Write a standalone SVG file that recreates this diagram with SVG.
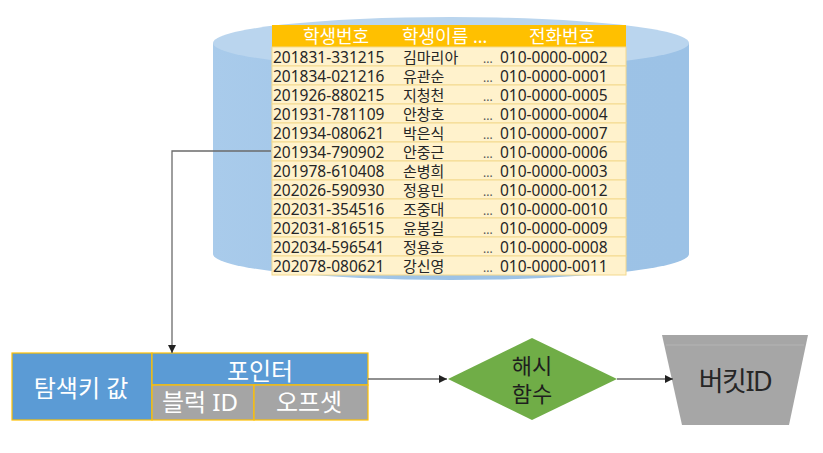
<svg xmlns="http://www.w3.org/2000/svg" width="823" height="453" viewBox="0 0 823 453">
<style>
  .t { font-family: "Noto Sans", "Noto Sans CJK KR", sans-serif; }
  .cell { font-size: 15.5px; fill: #262626; }
  .dots { font-size: 12px; fill: #555555; }
  .name { font-size: 15px; fill: #262626; }
  .hdr { font-size: 18px; fill: #ffffff; }
  .row { fill: #fff2cc; stroke: #f3d98e; stroke-width: 1; }
  .rec { font-size: 24px; fill: #ffffff; }
  .blue { fill: #5b9bd5; stroke: #ffc000; stroke-width: 1.2; }
  .gray { fill: #a5a5a5; stroke: #ffc000; stroke-width: 1.2; }
  .conn { fill: none; stroke: #6b6b6b; stroke-width: 1.3; }
  .dark { font-size: 22px; fill: #1e1e1e; }
</style>
<defs>
  <marker id="arr" viewBox="0 0 10 10" refX="10" refY="5" markerWidth="8" markerHeight="8" markerUnits="userSpaceOnUse" orient="auto">
    <path d="M0,0 L10,5 L0,10 z" fill="#222"/>
  </marker>
  <linearGradient id="body" x1="0" y1="0" x2="1" y2="0">
    <stop offset="0" stop-color="#a9cbeb"/>
    <stop offset="0.5" stop-color="#9dc3e6"/>
    <stop offset="1" stop-color="#9cc2e6"/>
  </linearGradient>
</defs>
<rect width="823" height="453" fill="#ffffff"/>

<g id="database">
  <path d="M213,43 L213,254 A238,26 0 0 0 689,254 L689,43 Z" fill="url(#body)"/>
  <ellipse cx="451" cy="43" rx="238" ry="26" fill="#bad5ee"/>
</g>

<g id="table" class="t">
  <rect x="272" y="25" width="354" height="22" fill="#ffc000"/>
  <text class="hdr" x="336" y="43" text-anchor="middle">학생번호</text>
  <text class="hdr" x="402" y="43">학생이름 ...</text>
  <text class="hdr" x="562" y="43" text-anchor="middle">전화번호</text>
  <g>
    <rect class="row" x="272" y="47" width="354" height="19"/>
    <rect class="row" x="272" y="66" width="354" height="19"/>
    <rect class="row" x="272" y="85" width="354" height="19"/>
    <rect class="row" x="272" y="104" width="354" height="19"/>
    <rect class="row" x="272" y="123" width="354" height="19"/>
    <rect class="row" x="272" y="142" width="354" height="19"/>
    <rect class="row" x="272" y="161" width="354" height="19"/>
    <rect class="row" x="272" y="180" width="354" height="19"/>
    <rect class="row" x="272" y="199" width="354" height="19"/>
    <rect class="row" x="272" y="218" width="354" height="19"/>
    <rect class="row" x="272" y="237" width="354" height="19"/>
    <rect class="row" x="272" y="256" width="354" height="19"/>
  </g>
  <g class="cell">
    <text x="273" y="63">201831-331215</text>
    <text x="273" y="82">201834-021216</text>
    <text x="273" y="101">201926-880215</text>
    <text x="273" y="120">201931-781109</text>
    <text x="273" y="139">201934-080621</text>
    <text x="273" y="158">201934-790902</text>
    <text x="273" y="177">201978-610408</text>
    <text x="273" y="196">202026-590930</text>
    <text x="273" y="215">202031-354516</text>
    <text x="273" y="234">202031-816515</text>
    <text x="273" y="253">202034-596541</text>
    <text x="273" y="272">202078-080621</text>
  </g>
  <g class="name">
    <text x="403" y="63">김마리아</text>
    <text x="403" y="82">유관순</text>
    <text x="403" y="101">지청천</text>
    <text x="403" y="120">안창호</text>
    <text x="403" y="139">박은식</text>
    <text x="403" y="158">안중근</text>
    <text x="403" y="177">손병희</text>
    <text x="403" y="196">정용민</text>
    <text x="403" y="215">조중대</text>
    <text x="403" y="234">윤봉길</text>
    <text x="403" y="253">정용호</text>
    <text x="403" y="272">강신영</text>
  </g>
  <g class="dots">
    <text x="483" y="63">...</text>
    <text x="483" y="82">...</text>
    <text x="483" y="101">...</text>
    <text x="483" y="120">...</text>
    <text x="483" y="139">...</text>
    <text x="483" y="158">...</text>
    <text x="483" y="177">...</text>
    <text x="483" y="196">...</text>
    <text x="483" y="215">...</text>
    <text x="483" y="234">...</text>
    <text x="483" y="253">...</text>
    <text x="483" y="272">...</text>
  </g>
  <g class="cell">
    <text x="500" y="63">010-0000-0002</text>
    <text x="500" y="82">010-0000-0001</text>
    <text x="500" y="101">010-0000-0005</text>
    <text x="500" y="120">010-0000-0004</text>
    <text x="500" y="139">010-0000-0007</text>
    <text x="500" y="158">010-0000-0006</text>
    <text x="500" y="177">010-0000-0003</text>
    <text x="500" y="196">010-0000-0012</text>
    <text x="500" y="215">010-0000-0010</text>
    <text x="500" y="234">010-0000-0009</text>
    <text x="500" y="253">010-0000-0008</text>
    <text x="500" y="272">010-0000-0011</text>
  </g>
</g>

<g id="record" class="t">
  <rect class="blue" x="12" y="353" width="140" height="67"/>
  <rect class="blue" x="152" y="353" width="216" height="32"/>
  <rect class="gray" x="152" y="385" width="102" height="35"/>
  <rect class="gray" x="254" y="385" width="114" height="35"/>
  <text class="rec" x="81" y="397" text-anchor="middle">탐색키 값</text>
  <text class="rec" x="260" y="380" text-anchor="middle">포인터</text>
  <text class="rec" x="200" y="411" text-anchor="middle">블럭 ID</text>
  <text class="rec" x="309" y="411" text-anchor="middle">오프셋</text>
</g>

<g id="hash" class="t">
  <polygon points="448,379 532,338 617,379 532,420" fill="#70ad47"/>
  <text class="dark" x="532" y="374" text-anchor="middle">해시</text>
  <text class="dark" x="532" y="402" text-anchor="middle">함수</text>
</g>

<g id="bucket" class="t">
  <polygon points="662,335 808,335 789,425 682,425" fill="#a6a6a6"/>
  <line x1="666" y1="345" x2="804" y2="345" stroke="#b4b4b4" stroke-width="1"/>
  <text x="735" y="391" text-anchor="middle" font-size="27" fill="#262626" letter-spacing="-1.5">버킷ID</text>
</g>

<g id="connectors">
  <polyline class="conn" points="271,151 172,151 172,353" marker-end="url(#arr)"/>
  <line class="conn" x1="368" y1="379" x2="447" y2="379" marker-end="url(#arr)"/>
  <line class="conn" x1="617" y1="379" x2="673" y2="379" marker-end="url(#arr)"/>
</g>
</svg>
